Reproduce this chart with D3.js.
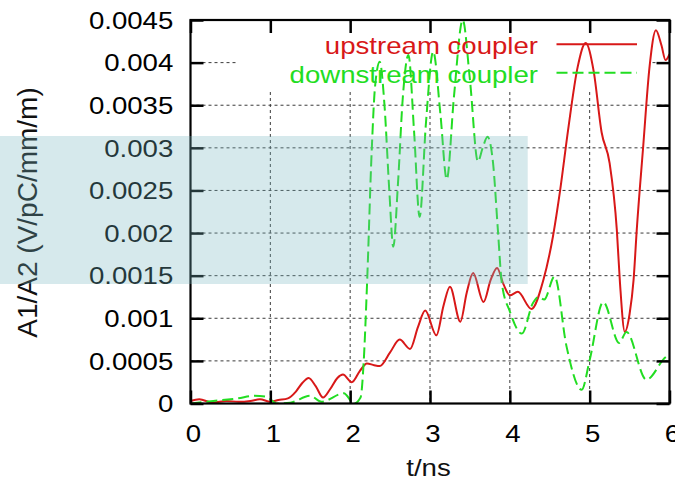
<!DOCTYPE html>
<html>
<head>
<meta charset="utf-8">
<script src="https://cdn.jsdelivr.net/npm/d3@7"></script>
<style>
  html, body { margin: 0; padding: 0; background: #fff; }
  svg { display: block; }
  text { font-family: "Liberation Sans", Arial, Helvetica, sans-serif; }
</style>
</head>
<body>
<svg id="chart" width="675" height="486"></svg>
<script>
// Time axis (ns) and coupler response A1/A2 (V/pC/mm/m)
const tUp = [0.00, 0.11, 0.28, 0.45, 0.60, 0.75, 0.87, 1.00, 1.10, 1.22, 1.32, 1.40, 1.48, 1.57, 1.66, 1.75, 1.84, 1.91, 2.02, 2.12, 2.21, 2.30, 2.37, 2.50, 2.62, 2.75, 2.85, 2.94, 3.08, 3.17, 3.25, 3.38, 3.46, 3.54, 3.67, 3.76, 3.84, 3.92, 4.00, 4.10, 4.27, 4.42, 4.54, 4.63, 4.73, 4.85, 4.95, 5.05, 5.15, 5.25, 5.34, 5.38, 5.44, 5.50, 5.55, 5.59, 5.67, 5.75, 5.83, 5.90, 5.95, 6.00];
const vUp = [0.00003, 0.00005, 0.00001, 0.00003, 0.00002, 0.00003, 0.00005, 0.00002, 0.00004, 0.00006, 0.00014, 0.00024, 0.00030, 0.00020, 0.00007, 0.00017, 0.00030, 0.00034, 0.00025, 0.00038, 0.00047, 0.00045, 0.00044, 0.00060, 0.00075, 0.00064, 0.00090, 0.00109, 0.00080, 0.00115, 0.00137, 0.00096, 0.00130, 0.00153, 0.00119, 0.00145, 0.00159, 0.00140, 0.00127, 0.00131, 0.00111, 0.00145, 0.00196, 0.00250, 0.00321, 0.00395, 0.00423, 0.00390, 0.00318, 0.00282, 0.00204, 0.00141, 0.00084, 0.00105, 0.00145, 0.00204, 0.00301, 0.00395, 0.00438, 0.00420, 0.00403, 0.00410];

const tDown = [0.00, 0.20, 0.38, 0.59, 0.80, 0.95, 1.08, 1.25, 1.50, 1.64, 1.92, 2.05, 2.13, 2.17, 2.21, 2.27, 2.31, 2.37, 2.43, 2.49, 2.54, 2.60, 2.66, 2.73, 2.80, 2.87, 2.95, 3.04, 3.13, 3.21, 3.30, 3.41, 3.50, 3.60, 3.66, 3.72, 3.79, 3.85, 3.90, 4.00, 4.15, 4.29, 4.36, 4.43, 4.56, 4.71, 4.90, 5.00, 5.17, 5.37, 5.46, 5.71, 5.96, 6.00];
const vDown = [0.00000, 0.00002, 0.00004, 0.00006, 0.00009, 0.00008, 0.00000, 0.00001, 0.00009, 0.00002, 0.00012, 0.00000, 0.00007, 0.00050, 0.00137, 0.00297, 0.00370, 0.00401, 0.00350, 0.00250, 0.00184, 0.00260, 0.00360, 0.00409, 0.00320, 0.00219, 0.00330, 0.00413, 0.00340, 0.00263, 0.00360, 0.00450, 0.00380, 0.00284, 0.00300, 0.00313, 0.00282, 0.00204, 0.00141, 0.00108, 0.00082, 0.00118, 0.00125, 0.00122, 0.00149, 0.00067, 0.00016, 0.00051, 0.00119, 0.00071, 0.00084, 0.00028, 0.00055, 0.00057];

const seriesNames = ["upstream coupler", "downstream coupler"];
const xTickValues = [0, 1, 2, 3, 4, 5, 6];
const xTickLabels = ["0", "1", "2", "3", "4", "5", "6"];
const yTickValues = [0, 0.0005, 0.001, 0.0015, 0.002, 0.0025, 0.003, 0.0035, 0.004, 0.0045];
const yTickLabels = ["0", "0.0005", "0.001", "0.0015", "0.002", "0.0025", "0.003", "0.0035", "0.004", "0.0045"];
const xTitle = "t/ns";
const yTitle = "A1/A2 (V/pC/mm/m)";

const svg = d3.select("#chart");
const L = 190.5, R = 669.5, T = 20, B = 403.5;
const x = d3.scaleLinear().domain([0, 6]).range([L, R]);
const y = d3.scaleLinear().domain([0, 0.0045]).range([B, T]);
const SX = 1.2;          // horizontal glyph stretch of the labels
const red = "#d81818", green = "#22dd22";

svg.append("rect").attr("width", 675).attr("height", 486).attr("fill", "#fff");

// dotted grid
const grid = svg.append("g").attr("stroke", "#3a3a3a").attr("stroke-width", 1).attr("stroke-dasharray", "3,3");
grid.selectAll(".gx").data(xTickValues.slice(1, -1)).join("line")
  .attr("x1", d => x(d)).attr("x2", d => x(d)).attr("y1", T).attr("y2", B);
grid.selectAll(".gy").data(yTickValues.slice(1, -1)).join("line")
  .attr("x1", L).attr("x2", R).attr("y1", d => y(d)).attr("y2", d => y(d));

// opaque key area
svg.append("rect").attr("x", 237).attr("y", T + 1).attr("width", 415).attr("height", 68).attr("fill", "#fff");

// data
svg.append("clipPath").attr("id", "plotclip").append("rect")
  .attr("x", L).attr("y", T).attr("width", R - L).attr("height", B - T);
const line = d3.line().x(d => x(d[0])).y(d => y(d[1])).curve(d3.curveMonotoneX);
const plot = svg.append("g").attr("clip-path", "url(#plotclip)").attr("fill", "none");
plot.append("path").datum(d3.zip(tUp, vUp)).attr("d", line)
  .attr("stroke", red).attr("stroke-width", 2);
plot.append("path").datum(d3.zip(tDown, vDown)).attr("d", line)
  .attr("stroke", green).attr("stroke-width", 2).attr("stroke-dasharray", "11,5");

// frame with inward ticks on all four sides
const tickLen = 13;
const axL = svg.append("g").attr("transform", `translate(${L},0)`)
  .call(d3.axisLeft(y).tickValues(yTickValues).tickSize(-tickLen).tickSizeOuter(0).tickFormat((d, i) => yTickLabels[i]));
const axR = svg.append("g").attr("transform", `translate(${R},0)`)
  .call(d3.axisRight(y).tickValues(yTickValues).tickSize(-tickLen).tickSizeOuter(0).tickFormat(""));
const axB = svg.append("g").attr("transform", `translate(0,${B})`)
  .call(d3.axisBottom(x).tickValues(xTickValues).tickSize(-tickLen).tickSizeOuter(0).tickFormat((d, i) => xTickLabels[i]));
const axT = svg.append("g").attr("transform", `translate(0,${T})`)
  .call(d3.axisTop(x).tickValues(xTickValues).tickSize(-tickLen).tickSizeOuter(0).tickFormat(""));
[axL, axR, axB, axT].forEach(g => {
  g.select(".domain").remove();
  g.selectAll(".tick line").attr("stroke", "#000").attr("stroke-width", 2.5);
});
axL.selectAll(".tick text")
  .attr("x", null).attr("dy", null).attr("fill", "#000")
  .attr("font-size", 23).attr("text-anchor", "end")
  .attr("transform", `translate(-17.2,8.3) scale(${SX},1)`);
axB.selectAll(".tick text")
  .attr("y", null).attr("dy", null).attr("fill", "#000")
  .attr("font-size", 23).attr("text-anchor", "middle")
  .attr("transform", `translate(2.5,38.5) scale(${SX},1)`);

svg.append("rect").attr("x", L).attr("y", T).attr("width", R - L).attr("height", B - T)
  .attr("fill", "none").attr("stroke", "#000").attr("stroke-width", 2.2);

// key
const key = svg.append("g");
[[seriesNames[0], red, null, 54.3, 44.3], [seriesNames[1], green, "11,5", 82.5, 72.7]].forEach(([name, col, dash, by, ly]) => {
  key.append("text").attr("transform", `translate(538,${by}) scale(${SX},1)`)
    .attr("text-anchor", "end").attr("font-size", 23).attr("fill", col).text(name);
  key.append("line").attr("x1", 556.5).attr("x2", 637).attr("y1", ly).attr("y2", ly)
    .attr("stroke", col).attr("stroke-width", 2).attr("stroke-dasharray", dash);
});

// axis titles
svg.append("text").attr("transform", `translate(428.5,476) scale(${SX},1)`)
  .attr("text-anchor", "middle").attr("font-size", 23).attr("fill", "#111").text(xTitle);
svg.append("text").attr("transform", "translate(36.5,212.5) rotate(-90)")
  .attr("text-anchor", "middle").attr("font-size", 28).attr("fill", "#111").text(yTitle);

// translucent highlight band
svg.append("rect").attr("x", 0).attr("y", 136).attr("width", 527.7).attr("height", 148)
  .attr("fill", "rgb(120,182,192)").attr("fill-opacity", 0.3);
</script>
</body>
</html>
